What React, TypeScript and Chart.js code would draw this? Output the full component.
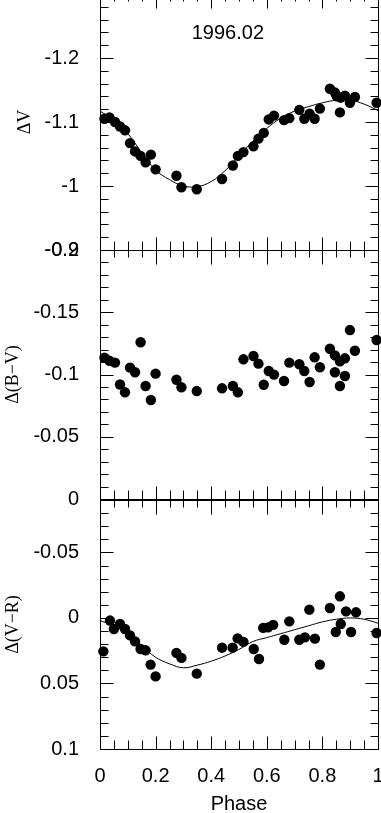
import React, { useEffect, useRef } from 'react';
import { Chart, registerables } from 'chart.js';

Chart.register(...registerables);

// ---------- data ----------
const epochLabel = '1996.02';
const epochLabelPos = [0.46, -1.238];

const phaseV = [0.016, 0.034, 0.054, 0.072, 0.09, 0.108, 0.126, 0.146, 0.164, 0.183, 0.2, 0.275, 0.293, 0.348, 0.439, 0.478, 0.496, 0.516, 0.552, 0.57, 0.589, 0.607, 0.626, 0.662, 0.681, 0.717, 0.735, 0.754, 0.772, 0.791, 0.827, 0.845, 0.852, 0.863, 0.866, 0.881, 0.899, 0.917, 0.995];
const deltaV = [-1.105, -1.107, -1.1, -1.093, -1.087, -1.067, -1.054, -1.047, -1.037, -1.049, -1.026, -1.016, -0.998, -0.995, -1.011, -1.032, -1.047, -1.053, -1.062, -1.074, -1.083, -1.104, -1.11, -1.103, -1.106, -1.119, -1.105, -1.113, -1.105, -1.121, -1.152, -1.146, -1.14, -1.115, -1.138, -1.141, -1.13, -1.139, -1.13];

const phaseBV = [0.016, 0.034, 0.054, 0.072, 0.09, 0.108, 0.126, 0.146, 0.164, 0.183, 0.2, 0.275, 0.293, 0.348, 0.439, 0.478, 0.496, 0.516, 0.552, 0.57, 0.589, 0.607, 0.626, 0.662, 0.681, 0.717, 0.735, 0.754, 0.772, 0.791, 0.827, 0.845, 0.845, 0.863, 0.863, 0.881, 0.881, 0.899, 0.917, 0.995];
const deltaBV = [-0.1135, -0.111, -0.1095, -0.092, -0.0857, -0.1055, -0.1018, -0.1259, -0.0908, -0.0795, -0.1007, -0.0958, -0.0897, -0.0867, -0.0889, -0.0908, -0.0857, -0.1122, -0.1149, -0.1087, -0.0918, -0.1028, -0.0999, -0.0948, -0.1095, -0.1082, -0.1028, -0.094, -0.1138, -0.1058, -0.1207, -0.1154, -0.1018, -0.1106, -0.0908, -0.113, -0.0988, -0.1357, -0.1191, -0.1277];

const phaseVR = [0.012, 0.036, 0.05, 0.072, 0.09, 0.108, 0.126, 0.146, 0.164, 0.182, 0.2, 0.275, 0.293, 0.348, 0.439, 0.477, 0.495, 0.516, 0.553, 0.572, 0.587, 0.605, 0.623, 0.663, 0.681, 0.717, 0.737, 0.753, 0.773, 0.791, 0.827, 0.848, 0.863, 0.866, 0.885, 0.903, 0.921, 0.995];
const deltaVR = [0.0255, 0.002, 0.0084, 0.0046, 0.0084, 0.0133, 0.0179, 0.0237, 0.0247, 0.0356, 0.0446, 0.0267, 0.0305, 0.0425, 0.0227, 0.0227, 0.0156, 0.0183, 0.0237, 0.0313, 0.0076, 0.0072, 0.0053, 0.0166, 0.0026, 0.0166, 0.0148, -0.0063, 0.0158, 0.0356, -0.0076, 0.0107, -0.0165, 0.0046, -0.005, 0.0107, -0.0043, 0.0115];

const curvePhase = [0, 0.05, 0.1, 0.15, 0.2, 0.25, 0.3, 0.35, 0.4, 0.45, 0.5, 0.55, 0.6, 0.65, 0.7, 0.75, 0.8, 0.85, 0.9, 0.95, 1];
const curveV = [-1.117, -1.103, -1.082, -1.052, -1.025, -1.01, -1.0, -0.999, -1.007, -1.024, -1.047, -1.07, -1.09, -1.106, -1.117, -1.124, -1.13, -1.134, -1.134, -1.128, -1.118];
const curveVR = [0.002, 0.006, 0.012, 0.021, 0.03, 0.035, 0.038, 0.036, 0.033, 0.029, 0.024, 0.018, 0.015, 0.012, 0.009, 0.006, 0.003, 0.001, 0.0, 0.001, 0.004];

const xTickLabels = [0, 0.2, 0.4, 0.6, 0.8, 1];
const yTickLabelsV = [-1.2, -1.1, -1, -0.9];
const yTickLabelsBV = [-0.2, -0.15, -0.1, -0.05, 0];
const yTickLabelsVR = [-0.05, 0, 0.05, 0.1];

// ---------- styling ----------
const SANS = "'Liberation Sans', Arial, Helvetica, sans-serif";
const SERIF = "'Liberation Serif', 'Times New Roman', serif";

const fmt = (v: number) => String(+Number(v).toFixed(4));
const inList = (list: number[], v: number) => list.some((t) => Math.abs(t - v) < 1e-6);

function zip(xs: number[], ys: number[]) {
  return xs.map((x, i) => ({ x, y: ys[i] }));
}

type PanelCfg = {
  top: number;
  h: number;
  padTop: number;
  padBottom: number;
  xHeight: number;
  showX: boolean;
  yMin: number;
  yMax: number;
  yStep: number;
  yMinor: number;
  yLabels: number[];
  yTitle: string;
  titlePad: number;
  points: { x: number; y: number }[];
  curve?: { x: number; y: number }[];
  annotate?: boolean;
};

const W = 400;

function framePlugin(p: PanelCfg) {
  return {
    id: 'frameTicks',
    afterDraw(chart: any) {
      const { ctx, chartArea, scales } = chart;
      const xs = scales.x;
      const ys = scales.y;
      const L = Math.round(chartArea.left) + 0.5;
      const R = Math.round(chartArea.right) + 0.5;
      const T = Math.round(chartArea.top) + 0.5;
      const B = Math.round(chartArea.bottom) + 0.5;
      ctx.save();
      ctx.strokeStyle = '#000';
      ctx.lineWidth = 1;
      ctx.beginPath();
      ctx.moveTo(L, T);
      ctx.lineTo(R, T);
      ctx.lineTo(R, B);
      ctx.lineTo(L, B);
      ctx.closePath();
      ctx.stroke();

      // x ticks (top & bottom)
      const xMinor = 0.05;
      const xMajor = 0.2;
      for (let i = 0; i <= Math.round(1 / xMinor); i++) {
        const v = i * xMinor;
        const major = Math.abs(v / xMajor - Math.round(v / xMajor)) < 1e-6;
        const px = Math.round(xs.getPixelForValue(v)) + 0.5;
        const lt = major ? 14 : 7;
        const lb = major ? 13 : 9;
        ctx.beginPath();
        ctx.moveTo(px, T);
        ctx.lineTo(px, T + lt);
        ctx.moveTo(px, B);
        ctx.lineTo(px, B - lb);
        ctx.stroke();
      }
      // y ticks (left & right)
      const i0 = Math.ceil(Math.min(p.yMin, p.yMax) / p.yMinor - 1e-6);
      const i1 = Math.floor(Math.max(p.yMin, p.yMax) / p.yMinor + 1e-6);
      for (let i = i0; i <= i1; i++) {
        const v = i * p.yMinor;
        const major = Math.abs(v / p.yStep - Math.round(v / p.yStep)) < 1e-6;
        const py = Math.round(ys.getPixelForValue(v)) + 0.5;
        const len = major ? 13 : 8;
        ctx.beginPath();
        ctx.moveTo(L, py);
        ctx.lineTo(L + len, py);
        ctx.moveTo(R, py);
        ctx.lineTo(R - len, py);
        ctx.stroke();
      }
      if (p.annotate) {
        ctx.fillStyle = '#000';
        ctx.font = `20px ${SANS}`;
        ctx.textAlign = 'center';
        ctx.textBaseline = 'middle';
        ctx.fillText(epochLabel, xs.getPixelForValue(epochLabelPos[0]), ys.getPixelForValue(epochLabelPos[1]));
      }
      ctx.restore();
    },
  };
}

function buildConfig(p: PanelCfg): any {
  const datasets: any[] = [
    {
      data: p.points,
      showLine: false,
      pointRadius: 5.2,
      pointHoverRadius: 5.2,
      pointBackgroundColor: '#000',
      pointBorderWidth: 0,
      backgroundColor: '#000',
      borderColor: '#000',
      clip: false,
    },
  ];
  if (p.curve) {
    datasets.push({
      data: p.curve,
      showLine: true,
      borderColor: '#000',
      borderWidth: 1,
      pointRadius: 0,
      tension: 0.4,
      fill: false,
    });
  }
  return {
    type: 'scatter',
    data: { datasets },
    options: {
      responsive: false,
      animation: false,
      devicePixelRatio: 1,
      events: [],
      layout: { padding: { top: p.padTop, bottom: p.padBottom, left: 0, right: W - 378 } },
      plugins: { legend: { display: false }, tooltip: { enabled: false }, title: { display: false } },
      scales: {
        x: {
          type: 'linear',
          min: 0,
          max: 1,
          grid: { display: false },
          border: { display: false },
          ticks: {
            display: p.showX,
            stepSize: 0.2,
            padding: 7,
            color: '#000',
            maxRotation: 0,
            autoSkip: false,
            font: { family: SANS, size: 20 },
            callback: (v: number) => (inList(xTickLabels, v) ? fmt(v) : ''),
          },
          title: {
            display: p.showX,
            text: 'Phase',
            color: '#000',
            font: { family: SANS, size: 20, lineHeight: 0.85 },
            padding: { top: 0, bottom: 0 },
          },
          afterFit: (s: any) => {
            s.height = p.xHeight;
          },
        },
        y: {
          type: 'linear',
          reverse: true,
          min: p.yMin,
          max: p.yMax,
          grid: {
            display: true,
            drawOnChartArea: false,
            drawTicks: true,
            tickLength: 21,
            color: 'rgba(0,0,0,0)',
          },
          border: { display: false },
          ticks: {
            stepSize: p.yStep,
            padding: 0,
            color: '#000',
            autoSkip: false,
            font: { family: SANS, size: 20 },
            callback: (v: number) => (inList(p.yLabels, v) ? fmt(v) : ''),
          },
          title: {
            display: true,
            text: p.yTitle,
            color: '#000',
            font: { family: SERIF, size: 18 },
            padding: { top: p.titlePad, bottom: 0 },
          },
          afterFit: (s: any) => {
            s.width = 100;
          },
        },
      },
    },
    plugins: [framePlugin(p)],
  };
}

const panels: PanelCfg[] = [
  {
    top: -30,
    h: 300,
    padTop: 24,
    padBottom: 20,
    xHeight: 0,
    showX: false,
    yMin: -1.3,
    yMax: -0.9,
    yStep: 0.1,
    yMinor: 0.02,
    yLabels: yTickLabelsV,
    yTitle: 'ΔV',
    titlePad: 14,
    points: zip(phaseV, deltaV),
    curve: zip(curvePhase, curveV),
    annotate: true,
  },
  {
    top: 220,
    h: 310,
    padTop: 30,
    padBottom: 31,
    xHeight: 0,
    showX: false,
    yMin: -0.2,
    yMax: 0,
    yStep: 0.05,
    yMinor: 0.01,
    yLabels: yTickLabelsBV,
    yTitle: 'Δ(B−V)',
    titlePad: 2,
    points: zip(phaseBV, deltaBV),
  },
  {
    top: 470,
    h: 343,
    padTop: 30,
    padBottom: 0,
    xHeight: 64,
    showX: true,
    yMin: -0.09,
    yMax: 0.1,
    yStep: 0.05,
    yMinor: 0.01,
    yLabels: yTickLabelsVR,
    yTitle: 'Δ(V−R)',
    titlePad: 2,
    points: zip(phaseVR, deltaVR),
    curve: zip(curvePhase, curveVR),
  },
];

function Panel({ cfg }: { cfg: PanelCfg }) {
  const ref = useRef<HTMLCanvasElement | null>(null);
  useEffect(() => {
    if (!ref.current) return;
    const chart = new Chart(ref.current, buildConfig(cfg));
    return () => chart.destroy();
  }, [cfg]);
  return (
    <canvas
      ref={ref}
      width={W}
      height={cfg.h}
      style={{ position: 'absolute', left: 0, top: cfg.top, width: W, height: cfg.h }}
    />
  );
}

export default function App() {
  return (
    <div
      style={{
        position: 'absolute',
        left: 0,
        top: 0,
        width: 381,
        height: 813,
        overflow: 'hidden',
        background: '#fff',
      }}
    >
      {panels.map((p, i) => (
        <Panel key={i} cfg={p} />
      ))}
    </div>
  );
}
